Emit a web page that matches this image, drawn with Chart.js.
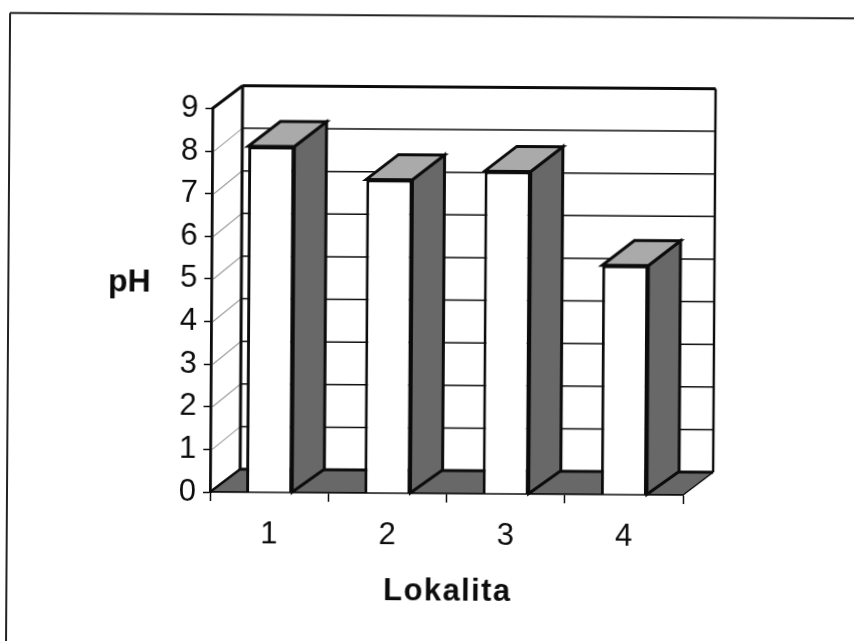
<!DOCTYPE html>
<html>
<head>
<meta charset="utf-8">
<title>pH</title>
<script src="https://cdn.jsdelivr.net/npm/chart.js@4"></script>
<style>
    html, body { margin: 0; padding: 0; background: #fff; overflow: hidden; }
    #wrap { width: 854px; height: 641px; overflow: hidden; }
    /* the source is a slightly crooked, soft scan */
    #phChart { display: block; transform-origin: 210px 492px; transform: rotate(0.37deg); filter: blur(0.35px); }
</style>
</head>
<body>
<div id="wrap"><canvas id="phChart" width="860" height="660"></canvas></div>
<script>
var categories = ['1', '2', '3', '4'];
var phValues = [8.12, 7.36, 7.57, 5.38];
var yMin = 0;
var yMax = 9;
var yStep = 1;
var yTitle = 'pH';
var xTitle = 'Lokalita';

var INK = '#0c0c0c';
var SIDE = '#686868';
var TOP = '#aaaaaa';
// 3d depth of the box and of the bars
var DX = 30, DY = -23;

function poly(ctx, pts, fill, stroke, lw) {
    ctx.beginPath();
    pts.forEach(function (p, i) {
        if (i === 0) ctx.moveTo(p[0], p[1]);
        else ctx.lineTo(p[0], p[1]);
    });
    ctx.closePath();
    if (fill) { ctx.fillStyle = fill; ctx.fill(); }
    if (stroke) { ctx.strokeStyle = stroke; ctx.lineWidth = lw; ctx.lineJoin = 'miter'; ctx.stroke(); }
}

function line(ctx, x1, y1, x2, y2, color, lw) {
    ctx.beginPath();
    ctx.moveTo(x1, y1);
    ctx.lineTo(x2, y2);
    ctx.strokeStyle = color;
    ctx.lineWidth = lw;
    ctx.stroke();
}

var box3d = {
    id: 'box3d',
    beforeDraw: function (chart) {
        var ctx = chart.ctx, a = chart.chartArea, y = chart.scales.y;
        ctx.save();
        // page frame
        line(ctx, 7, 14.3, 870, 14.3, '#222', 2);
        line(ctx, 7, 14.3, 7, 660, '#222', 2);

        // floor
        poly(ctx, [[a.left, a.bottom], [a.right, a.bottom], [a.right + DX, a.bottom + DY], [a.left + DX, a.bottom + DY]], SIDE);

        // grid lines on the side wall and the back wall
        y.ticks.forEach(function (t) {
            var py = y.getPixelForValue(t.value);
            if (t.value === yMin) return;
            if (t.value !== yMax) {
                line(ctx, a.left + 2, py, a.left + DX, py + DY, '#a0a0a0', 1.2);
                line(ctx, a.left + DX, py + DY, a.right + DX, py + DY, INK, 1.5);
            }
        });

        // box outline
        line(ctx, a.left, a.top, a.left + DX, a.top + DY, INK, 3);
        line(ctx, a.left + DX, a.top + DY, a.right + DX, a.top + DY, INK, 3);
        line(ctx, a.right + DX, a.top + DY, a.right + DX, a.bottom + DY, INK, 2.4);
        line(ctx, a.left + DX, a.top + DY, a.left + DX, a.bottom + DY, INK, 3);
        line(ctx, a.left + DX, a.bottom + DY, a.right + DX, a.bottom + DY, INK, 3);
        line(ctx, a.left, a.bottom, a.left + DX, a.bottom + DY, INK, 2.4);
        line(ctx, a.right, a.bottom, a.right + DX, a.bottom + DY, INK, 1.5);

        // axis titles
        ctx.fillStyle = INK;
        ctx.textBaseline = 'middle';
        ctx.textAlign = 'center';
        ctx.font = 'bold 32px "Liberation Sans", Arial, sans-serif';
        ctx.fillText(yTitle, 128, 283);
        ctx.font = 'bold 31px "Liberation Sans", Arial, sans-serif';
        ctx.letterSpacing = '1.4px';
        ctx.fillText(xTitle, 448, 590);
        ctx.letterSpacing = '0px';
        ctx.restore();
    },
    beforeDatasetsDraw: function (chart) {
        var ctx = chart.ctx;
        ctx.save();
        chart.getDatasetMeta(0).data.forEach(function (bar) {
            var l = bar.x - bar.width / 2, r = bar.x + bar.width / 2;
            var t = bar.y, b = bar.base;
            poly(ctx, [[r, t], [r + DX + 2, t + DY - 2], [r + DX + 2, b + DY], [r, b]], SIDE, INK, 3);
            poly(ctx, [[l, t], [l + DX + 2, t + DY - 2], [r + DX + 2, t + DY - 2], [r, t]], TOP, INK, 3);
        });
        ctx.restore();
    }
};

new Chart(document.getElementById('phChart'), {
    type: 'bar',
    data: {
        labels: categories,
        datasets: [{
            data: phValues,
            backgroundColor: '#ffffff',
            borderColor: INK,
            borderWidth: 3,
            barPercentage: 0.39,
            categoryPercentage: 1
        }]
    },
    options: {
        responsive: false,
        animation: false,
        layout: { padding: { top: 108.5, right: 177, left: 0, bottom: 0 } },
        plugins: { legend: { display: false }, tooltip: { enabled: false }, title: { display: false } },
        scales: {
            x: {
                afterFit: function (scale) { scale.height = 168; },
                grid: { drawOnChartArea: false, tickLength: 9, tickColor: INK, tickWidth: 1.5 },
                border: { color: INK, width: 1.8 },
                ticks: {
                    color: INK,
                    padding: 15,
                    maxRotation: 0,
                    font: { family: '"Liberation Sans", Arial, sans-serif', size: 31 }
                }
            },
            y: {
                min: yMin,
                max: yMax,
                afterFit: function (scale) { scale.width = 210; },
                grid: { drawOnChartArea: false, tickLength: 7, tickColor: INK, tickWidth: 1.5 },
                border: { color: INK, width: 2.8 },
                ticks: {
                    stepSize: yStep,
                    color: INK,
                    padding: 7,
                    font: { family: '"Liberation Sans", Arial, sans-serif', size: 31 }
                }
            }
        }
    },
    plugins: [box3d]
});
</script>
</body>
</html>
